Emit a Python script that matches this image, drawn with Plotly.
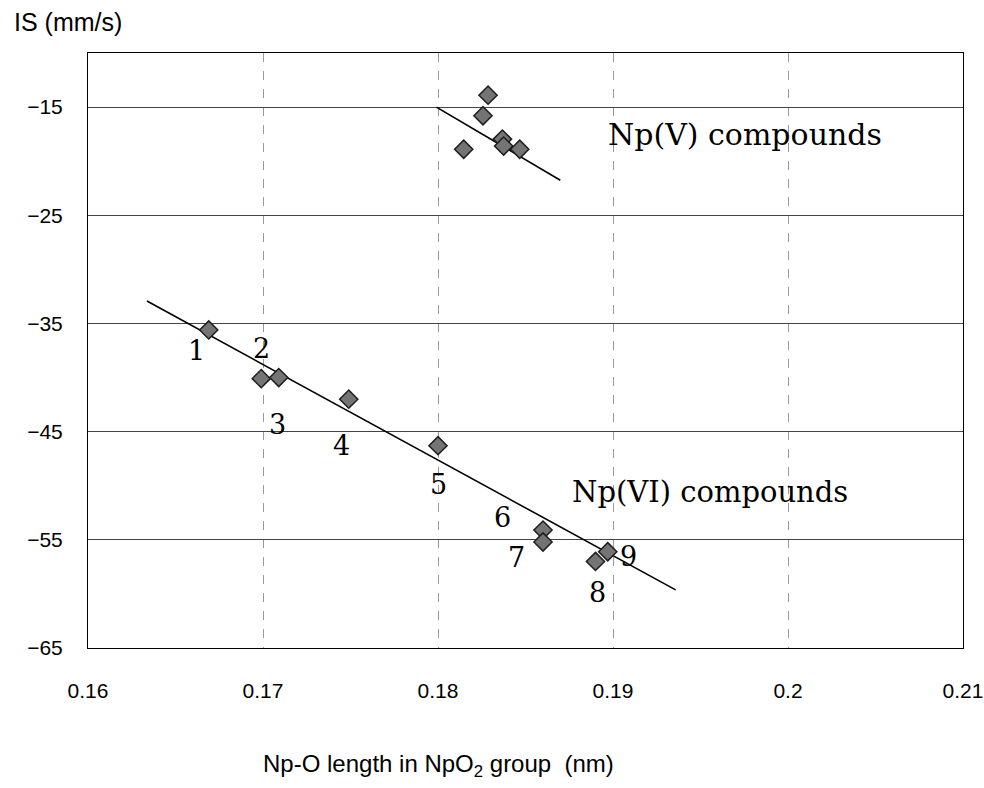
import plotly.graph_objects as go

# ---- data ----
vi_x = [0.1669, 0.1699, 0.1709, 0.1749, 0.1800, 0.1860, 0.1860, 0.1890, 0.1897]
vi_y = [-35.6, -40.1, -40.0, -42.0, -46.3, -54.1, -55.2, -57.0, -56.1]
vi_labels = ["1", "2", "3", "4", "5", "6", "7", "8", "9"]
# label offsets (in data units) relative to each point
lab_dx = [-0.0007, 0.0000, -0.0001, -0.0004, 0.0000, -0.0023, -0.0015, 0.0001, 0.0012]
lab_dy = [-1.9, 2.8, -4.3, -4.3, -3.6, 1.2, -1.4, -2.9, -0.4]

v_x = [0.18147, 0.18257, 0.18286, 0.18368, 0.18375, 0.18467]
v_y = [-18.9, -15.8, -13.9, -17.96, -18.6, -18.9]

vi_line_x = [0.16337, 0.19358]
vi_line_y = [-32.93, -59.63]
v_line_x = [0.17991, 0.18699]
v_line_y = [-15.0, -21.76]

x_ticks = [0.16, 0.17, 0.18, 0.19, 0.20, 0.21]
x_tick_text = ["0.16", "0.17", "0.18", "0.19", "0.2", "0.21"]
y_ticks = [-65, -55, -45, -35, -25, -15]
y_tick_text = ["\u221265", "\u221255", "\u221245", "\u221235", "\u221225", "\u221215"]

fig = go.Figure()

marker = dict(symbol="diamond", size=14, color="#747474",
              line=dict(color="#1e1e1e", width=1.5))

fig.add_trace(go.Scatter(x=vi_line_x, y=vi_line_y, mode="lines",
                         line=dict(color="black", width=1.6), showlegend=False,
                         hoverinfo="skip"))
fig.add_trace(go.Scatter(x=v_line_x, y=v_line_y, mode="lines",
                         line=dict(color="black", width=1.6), showlegend=False,
                         hoverinfo="skip"))
fig.add_trace(go.Scatter(x=vi_x, y=vi_y, mode="markers", marker=marker,
                         showlegend=False))
fig.add_trace(go.Scatter(x=v_x, y=v_y, mode="markers", marker=marker,
                         showlegend=False))

serif = "DejaVu Serif"
for x, y, t, dx, dy in zip(vi_x, vi_y, vi_labels, lab_dx, lab_dy):
    fig.add_annotation(x=x + dx, y=y + dy, text=t, showarrow=False,
                       font=dict(family=serif, size=27, color="black"),
                       xanchor="center", yanchor="middle")

fig.add_annotation(x=0.18960, y=-17.5, text="Np(V) compounds", showarrow=False,
                   font=dict(family=serif, size=30, color="black"),
                   xanchor="left", yanchor="middle")
fig.add_annotation(x=0.18755, y=-50.6, text="Np(VI) compounds", showarrow=False,
                   font=dict(family=serif, size=29, color="black"),
                   xanchor="left", yanchor="middle")

sans = "Liberation Sans"
fig.add_annotation(xref="paper", yref="paper", x=-0.087, y=1.052,
                   text="IS (mm/s)", showarrow=False,
                   font=dict(family=sans, size=25, color="black"),
                   xanchor="left", yanchor="middle")
fig.add_annotation(xref="paper", yref="paper", x=0.4, y=-0.197,
                   text="Np-O length in NpO<sub>2</sub> group  (nm)", showarrow=False,
                   font=dict(family=sans, size=24, color="black"),
                   xanchor="center", yanchor="middle")

fig.update_xaxes(range=[0.16, 0.21], tickvals=x_ticks, ticktext=x_tick_text,
                 showgrid=True, gridcolor="#9a9a9a", gridwidth=1, griddash="dash",
                 showline=True, linecolor="black", linewidth=1, mirror=True,
                 zeroline=False, ticks="", ticklen=0, ticklabelstandoff=24,
                 ticklabeloverflow="allow", automargin=False,
                 tickfont=dict(family=sans, size=21, color="black"))
fig.update_yaxes(range=[-65, -10], tickvals=y_ticks, ticktext=y_tick_text,
                 showgrid=True, gridcolor="#444444", gridwidth=1,
                 showline=True, linecolor="black", linewidth=1, mirror=True,
                 zeroline=False, ticks="", ticklen=0, ticklabelstandoff=20,
                 automargin=False,
                 tickfont=dict(family=sans, size=21, color="black"))

fig.update_layout(width=984, height=788, autosize=False,
                  margin=dict(l=88, r=21, t=53, b=140, pad=0),
                  plot_bgcolor="white", paper_bgcolor="white")

# remove the default 8px page margin so the figure fills the window exactly
fig.write_html("out.html",
               config={"responsive": False, "displayModeBar": False},
               post_script="document.documentElement.style.overflow='hidden';"
                           "document.body.style.margin='0';"
                           "document.body.style.overflow='hidden';")
